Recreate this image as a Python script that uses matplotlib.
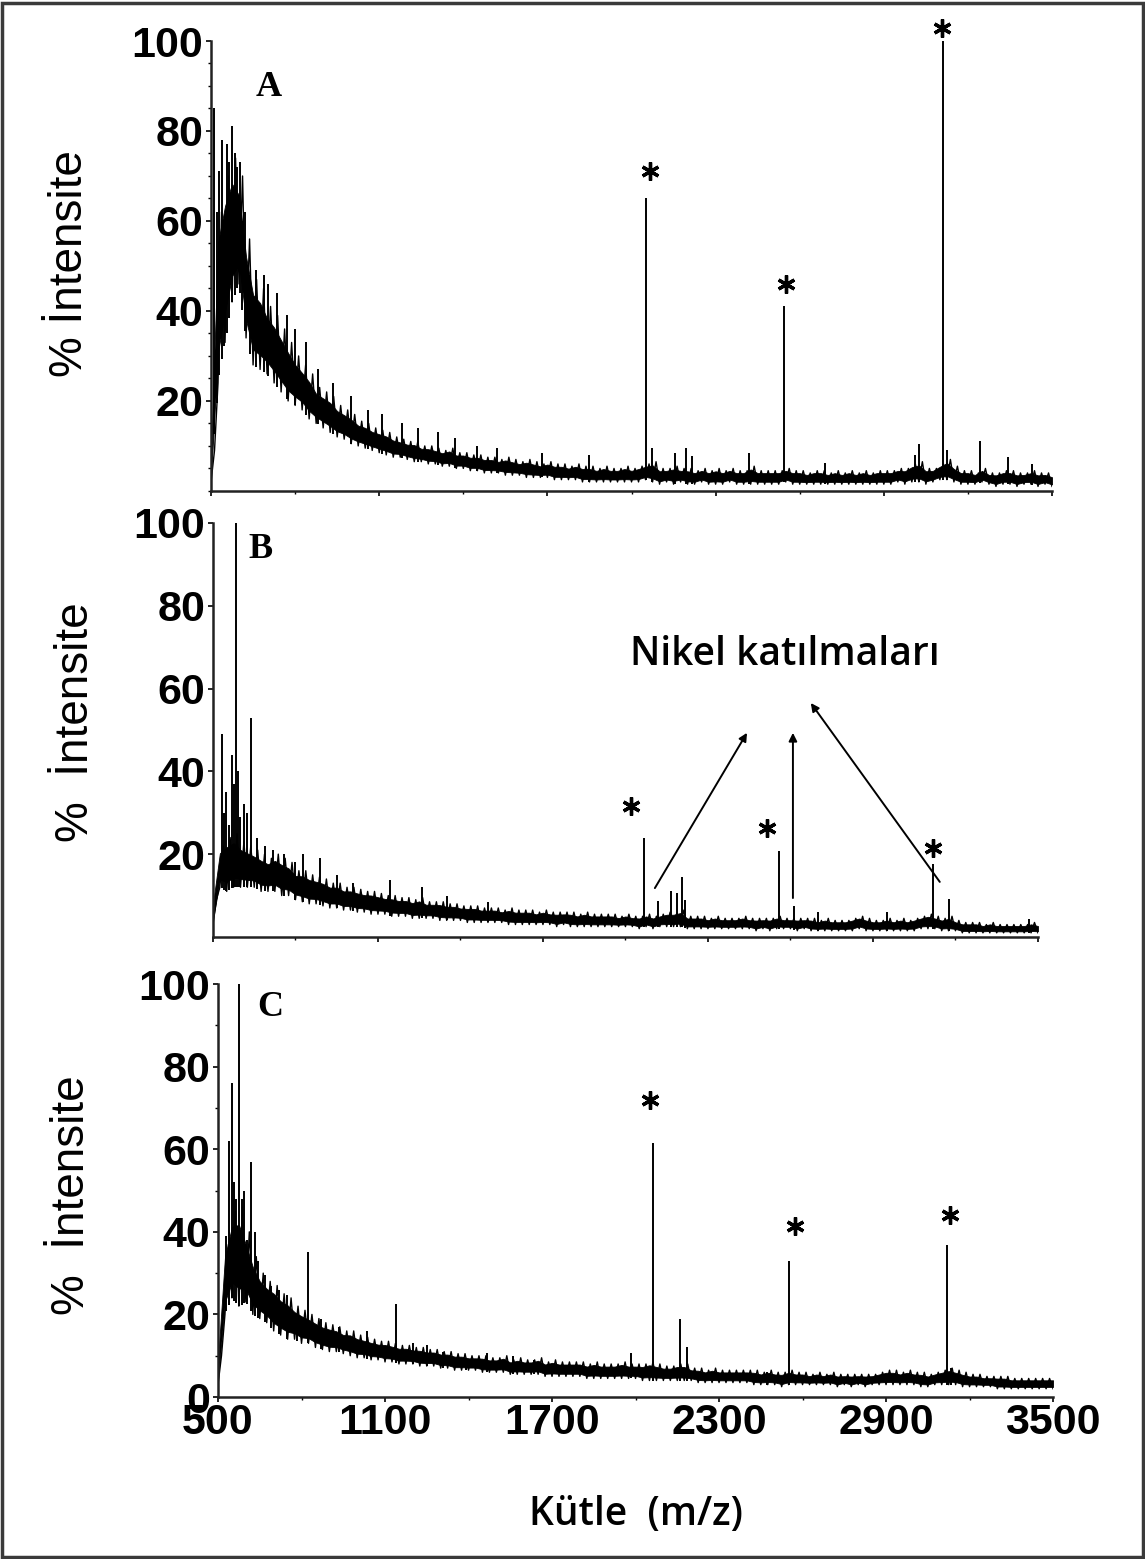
import numpy as np
import matplotlib.pyplot as plt
from matplotlib.patches import Rectangle
from matplotlib.ticker import FixedLocator, MultipleLocator

plt.rcParams['font.family'] = ['Liberation Sans', 'DejaVu Sans']

# m/z grid of the noise band (one low and one high reading per step)
MZ_STEP = 25
mz_grid = np.arange(500, 3500 + MZ_STEP, MZ_STEP)

x_tick_values = [500, 1100, 1700, 2300, 2900, 3500]
x_minor_values = [800, 1400, 2000, 2600, 3200]
y_tick_values = [20, 40, 60, 80, 100]

# ---- spectrum A ----
a_low = [2, 24, 33, 42, 46, 34, 28, 27, 26, 24,
         22, 20, 19, 18, 16, 15, 14, 13, 12, 11.5,
         10.5, 10, 9.5, 9, 8.5, 8, 7.5, 7.5, 7, 6.5,
         6.5, 6, 6, 5.5, 5.5, 5, 5, 4.5, 4.5, 4,
         4, 4, 3.5, 3.5, 3.5, 3, 3, 3, 3, 2.5,
         2.5, 2.5, 2.5, 2, 2, 2, 2, 2, 2, 2,
         2, 2, 2.5, 2, 1.5, 2, 1.5, 2, 1.5, 1.5,
         2, 1.5, 1.5, 1.5, 2, 1.5, 1.5, 1.5, 1.5, 1.5,
         1.5, 1.5, 2, 1.5, 1.5, 1.5, 1.5, 1.5, 1.5, 1.5,
         1.5, 1.5, 1.5, 1.5, 1.5, 1.5, 1.5, 1.5, 2, 1.5,
         2, 2, 1.5, 2, 2.5, 2.5, 2, 1.5, 1.5, 1.5,
         2, 1.5, 1, 1.5, 1.5, 1, 1.5, 1.5, 1, 1.5, 1]
a_high = [9, 62, 70, 74, 70, 56, 47, 45, 41, 39,
          36, 33, 30, 28, 26, 23, 22, 21, 19, 18,
          17, 15.5, 15, 14, 13.5, 13, 12, 11.5, 11, 11,
          10, 10, 9.5, 9, 9.5, 8.5, 8.5, 8, 8, 7.5,
          7.5, 7, 7.5, 7, 6.5, 7, 6.5, 6, 6.5, 6,
          6, 5.5, 6, 5.5, 5.5, 5, 5.5, 5, 5, 5.5,
          5, 5.5, 6, 6.5, 5, 5, 5.5, 5, 5, 4.5,
          5, 4.5, 5, 4.5, 5, 4.5, 4.5, 5.5, 4.5, 4.5,
          4.5, 4.5, 5, 4.5, 4.5, 4, 4.5, 4.5, 4, 4.5,
          4, 4.5, 4, 4.5, 4, 4.5, 4.5, 4.5, 5, 5,
          6, 6.5, 5, 5, 6, 7, 5.5, 4.5, 4.5, 4,
          5, 4, 4, 4.5, 4.5, 4, 4, 4.5, 4, 4, 3.5]
a_spike_mz = [512, 520, 530, 540, 548, 556, 565, 575, 585, 594,
              604, 612, 622, 640, 660, 690, 705, 735, 770, 800,
              840, 880, 935, 1000, 1060, 1110, 1180, 1240, 1310, 1370,
              1450, 1520, 1680, 1850, 2052, 2073, 2155, 2194, 2215, 2419,
              2544, 2690, 3010, 3026, 3111, 3125, 3243, 3343, 3430]
a_spike_top = [85, 62, 71, 78, 56, 77, 73, 81, 75, 72,
               73, 60, 62, 48, 49, 48, 46, 44, 39, 36,
               33, 27, 24, 21, 18, 17, 15, 14, 13, 11.8,
               10, 9.5, 8.5, 8, 65, 9.5, 8.4, 9.5, 7.7, 8.4,
               41, 6.2, 8, 10.4, 100, 9, 11, 7.5, 6]

# ---- spectrum B ----
b_low = [3, 12, 11, 12, 12, 12, 12, 11, 11, 11,
         10, 10, 9, 8.5, 8, 8, 7.5, 7, 7, 6.5,
         6.5, 6, 6, 5.5, 5.5, 5.5, 5, 5, 5, 4.5,
         4.5, 4.5, 4.5, 4, 4, 4, 4, 3.5, 3.5, 3.5,
         3.5, 3.5, 3.5, 3, 3, 3, 3, 3, 3, 3,
         2.5, 3, 2.5, 2.5, 2.5, 2.5, 2.5, 2.5, 2.5, 2.5,
         2.5, 2.5, 2, 2.5, 2, 2.5, 2.5, 2.5, 2.5, 2,
         2, 2, 2, 2, 2, 2, 2, 2, 2, 1.5,
         2, 1.5, 2, 2, 2, 1.5, 2, 1.5, 1.5, 1.5,
         1.5, 1.5, 1.5, 1.5, 2, 1.5, 1.5, 1.5, 1.5, 1.5,
         1.5, 1.5, 1.5, 2, 2, 2, 1.5, 1.5, 1.5, 1,
         1, 1, 1, 1, 1, 1, 1, 1, 1, 1, 1]
b_high = [9, 22, 24, 25, 23, 22, 21, 20, 19, 20,
          19, 18, 16, 16, 15, 14.5, 14, 13, 13, 12,
          12, 11.5, 11, 11, 10.5, 10, 10, 9.5, 9.5, 9,
          9.5, 8.5, 8.5, 8.5, 8, 8, 7.5, 7.5, 7.5, 7,
          7, 7, 6.5, 7, 6.5, 6.5, 6.5, 6, 6.5, 6,
          6, 6, 6, 5.5, 6, 5.5, 5.5, 5.5, 5.5, 5,
          5.5, 5, 5, 5.5, 5, 5.5, 6, 6, 6.5, 5,
          5, 5, 4.5, 5, 4.5, 4.5, 4.5, 5, 4.5, 4.5,
          4.5, 4.5, 5, 4.5, 4.5, 4.5, 4.5, 4.5, 4, 4.5,
          4, 4, 4, 4.5, 5, 4.5, 4, 4, 4.5, 4,
          4.5, 4, 4.5, 5, 5.5, 5, 4.5, 5, 4, 3.5,
          3.5, 3.5, 3, 3.5, 3, 3, 3, 3, 3, 3.5, 3]
b_spike_mz = [532, 540, 548, 560, 568, 575, 584, 590, 600, 612,
              625, 638, 660, 690, 720, 760, 800, 827, 889, 950,
              1010, 1143, 1260, 1350, 1500, 2067, 2118, 2165, 2187, 2205,
              2215, 2558, 2612, 2700, 2950, 3118, 3176, 3467]
b_spike_top = [49, 30, 35, 27, 44, 37, 100, 40, 29, 32,
               30, 53, 24, 22, 21, 20, 18, 20, 19, 15,
               13, 13.8, 12, 10, 8.5, 24, 8.7, 11, 10.5, 14.5,
               9, 20.8, 7.5, 6, 6, 17.6, 9.2, 4.3]

# ---- spectrum C ----
c_low = [3, 20, 24, 22, 23, 20, 19, 18, 16, 15,
         14, 14, 13, 13, 12, 11.5, 11, 11, 10.5, 10,
         9.5, 9.5, 9, 9, 8.5, 8.5, 8, 8, 8, 7.5,
         7.5, 7.5, 7, 7, 6.5, 6.5, 6.5, 6.5, 6, 6,
         6, 6, 5.5, 5.5, 5.5, 5.5, 5.5, 5, 5, 5,
         5, 5, 5, 4.5, 4.5, 4.5, 4.5, 4.5, 4.5, 4.5,
         4.5, 4, 4, 4, 4, 4, 4, 4, 4, 3.5,
         3.5, 3.5, 3.5, 3.5, 3.5, 3.5, 3.5, 3, 3, 3,
         3, 2.5, 3, 3, 3, 3, 3, 3, 3, 2.5,
         3, 2.5, 3, 2.5, 3, 3, 3, 3, 3, 3,
         3, 2.5, 2.5, 3, 3, 3, 3, 2.5, 2.5, 2.5,
         2.5, 2.5, 2, 2, 2, 2, 2, 2, 2, 2, 2]
c_high = [10, 37, 45, 46, 40, 34, 30, 28, 27, 25,
          24, 22, 21, 20, 19, 18, 17.5, 17, 16, 16,
          15, 14.5, 14, 13.5, 13.5, 13, 12.5, 12.5, 12, 12,
          11.5, 11.5, 11, 11, 10.5, 10.5, 10, 10, 10, 9.5,
          9.5, 10, 9, 9.5, 9, 9, 9.5, 8.5, 9, 8.5,
          8.5, 8.5, 8.5, 8, 8.5, 8, 8, 8, 8.5, 8,
          8, 8, 8.5, 8, 7.5, 7.5, 8, 8, 7, 7,
          6.5, 7, 6.5, 6.5, 6.5, 6.5, 6.5, 6.5, 6, 6.5,
          6, 6, 6.5, 6, 6, 5.5, 6, 5.5, 6, 5.5,
          5.5, 5.5, 5.5, 5.5, 5.5, 6, 6.5, 6.5, 6, 6.5,
          6, 6, 5.5, 6, 6.5, 7, 6.5, 6, 5.5, 5.5,
          5, 5, 5, 5, 4.5, 4.5, 4.5, 4.5, 4.5, 4.5, 4.5]
c_spike_mz = [530, 540, 550, 558, 566, 575, 585, 595, 604, 619,
              633, 645, 669, 690, 720, 748, 785, 823, 870, 935,
              1035, 1140, 1200, 1251, 1310, 1391, 1466, 1560, 1635, 1984,
              2063, 2160, 2185, 2473, 2552, 3119, 3135]
c_spike_top = [39, 62, 76, 52, 48, 100, 48, 50, 38, 57,
               40, 33, 29.5, 27, 26, 24.7, 20, 35, 19, 17,
               16, 22.5, 13, 12.6, 11, 9.4, 10.6, 10, 9, 10.6,
               61.5, 19, 12, 6, 33, 36.8, 7]

# starred peaks (m/z, height of the star)
a_star_mz = [2066, 2551, 3107]
a_star_y = [71, 46, 103]
b_star_mz = [2020, 2514, 3118]
b_star_y = [31.6, 26.3, 21.5]
c_star_mz = [2052, 2573, 3130]
c_star_y = [72, 41.4, 44.1]


def draw_spectrum(ax, low, high, spike_mz, spike_top):
    """Noise band as a zigzag between low/high readings, plus spikes."""
    low = np.asarray(low, dtype=float)
    high = np.asarray(high, dtype=float)
    # dark core of the noise band
    span = high - low
    ax.fill_between(mz_grid, low + 0.18 * span, high - 0.18 * span,
                    color='black', lw=0.6)
    x = np.empty(2 * len(mz_grid))
    y = np.empty_like(x)
    x[0::2] = mz_grid
    x[1::2] = mz_grid + MZ_STEP / 2
    y[0::2] = low
    y[1::2] = high
    keep = x <= 3500
    ax.plot(x[keep], y[keep], color='black', lw=1.0)
    base = np.interp(spike_mz, mz_grid, low)
    ax.vlines(spike_mz, base, spike_top, color='black', lw=1.4)


def style_axes(ax, show_x_labels, y_ticks, y_minor):
    ax.set_xlim(500, 3500)
    ax.set_ylim(0, 100)
    for side in ('top', 'right'):
        ax.spines[side].set_visible(False)
    for side in ('left', 'bottom'):
        ax.spines[side].set_linewidth(1.8)
        ax.spines[side].set_color('#222222')
    ax.xaxis.set_major_locator(FixedLocator(x_tick_values))
    ax.xaxis.set_minor_locator(FixedLocator(x_minor_values))
    ax.yaxis.set_major_locator(FixedLocator(y_ticks))
    if y_minor:
        ax.yaxis.set_minor_locator(MultipleLocator(y_minor))
    ax.tick_params(which='major', direction='out', length=3.5, width=1.2,
                   labelsize=31, pad=2)
    ax.tick_params(which='minor', direction='out', length=2.5, width=1.0)
    ax.tick_params(axis='x', pad=1, labelbottom=show_x_labels)
    for lab in ax.get_xticklabels() + ax.get_yticklabels():
        lab.set_fontweight('bold')


def stars(ax, mz, y):
    ax.plot(mz, y, linestyle='none', marker=(6, 2, 0), ms=13, mew=2.4,
            color='black', clip_on=False)


fig = plt.figure(figsize=(11.45, 15.59), dpi=100)

ax_a = fig.add_axes([0.1843, 0.6851, 0.7345, 0.2886])
ax_b = fig.add_axes([0.1860, 0.3990, 0.7205, 0.2656])
ax_c = fig.add_axes([0.1904, 0.1039, 0.7293, 0.2649])

draw_spectrum(ax_a, a_low, a_high, a_spike_mz, a_spike_top)
draw_spectrum(ax_b, b_low, b_high, b_spike_mz, b_spike_top)
draw_spectrum(ax_c, c_low, c_high, c_spike_mz, c_spike_top)

style_axes(ax_a, False, y_tick_values, 5)
style_axes(ax_b, False, y_tick_values, None)
style_axes(ax_c, True, [0] + y_tick_values, 10)

stars(ax_a, a_star_mz, a_star_y)
stars(ax_b, b_star_mz, b_star_y)
stars(ax_c, c_star_mz, c_star_y)

serif = ['Liberation Serif', 'DejaVu Serif']
ax_a.text(707, 89.7, 'A', family=serif, weight='bold', fontsize=26,
          ha='center', va='center')
ax_b.text(674, 93.5, 'B', family=serif, weight='bold', fontsize=26,
          ha='center', va='center')
ax_c.text(687, 94.2, 'C', family=serif, weight='bold', fontsize=26,
          ha='center', va='center')

# nickel adduct annotation in panel B
label_font = ['Open Sans', 'DejaVu Sans']
ax_b.text(2580, 68, 'Nikel katılmaları', family=label_font, weight='semibold',
          fontsize=28, ha='center', va='center')
arrow_kw = dict(arrowstyle='-|>', color='black', lw=1.4, mutation_scale=12,
                shrinkA=0, shrinkB=0)
ax_b.annotate('', xy=(2442, 49.3), xytext=(2107, 11.8), arrowprops=arrow_kw)
ax_b.annotate('', xy=(2609, 49.3), xytext=(2609, 9.4), arrowprops=arrow_kw)
ax_b.annotate('', xy=(2674, 56.5), xytext=(3143, 13.3), arrowprops=arrow_kw)

# y labels, one per panel
fig.text(0.0611, 0.8307, '% İntensite', rotation=90, ha='center', va='center',
         fontsize=33)
fig.text(0.0664, 0.5369, '%  İntensite', rotation=90, ha='center', va='center',
         fontsize=33)
fig.text(0.0629, 0.2335, '%  İntensite', rotation=90, ha='center', va='center',
         fontsize=33)

fig.text(0.555, 0.028, 'Kütle  (m/z)', family=label_font, weight='semibold',
         fontsize=28, ha='center', va='center')

# frame around the whole picture
fig.patches.append(Rectangle((0.002, 0.001), 0.996, 0.997, fill=False,
                             lw=2.5, ec='#3a3a3a', transform=fig.transFigure))

fig.savefig('out.png', dpi=100)
